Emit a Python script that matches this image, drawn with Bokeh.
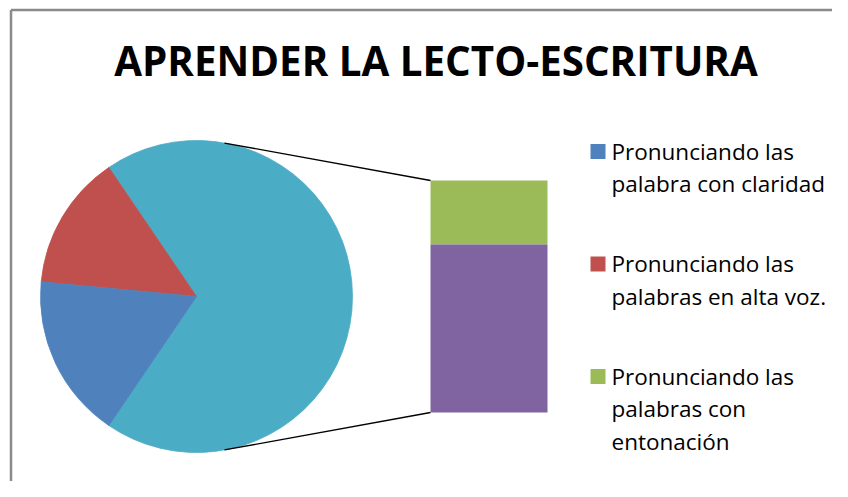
import math
from bokeh.plotting import figure
from bokeh.models import Range1d, ColumnDataSource
from bokeh.core.properties import value
from bokeh.embed import file_html
from bokeh.resources import INLINE

# ---------------- data ----------------
title_text = "APRENDER LA LECTO-ESCRITURA"
pie_labels = ["Pronunciando las palabra con claridad",
              "Pronunciando las palabras en alta voz."]
pie_values = [17, 14]
bar_labels = ["Pronunciando las palabras con entonación", ""]
bar_values = [19, 50]          # green (top), purple (bottom)
legend_lines = [["Pronunciando las", "palabra con claridad"],
                ["Pronunciando las", "palabras en alta voz."],
                ["Pronunciando las", "palabras con", "entonación"]]

# ---------------- styling / layout ----------------
pie_colors = ["#4F81BD", "#C0504D"]
other_color = "#4BACC6"
bar_colors = ["#9BBB59", "#8064A2"]
legend_colors = ["#4F81BD", "#C0504D", "#9BBB59"]
FONT = "Open Sans"

W, H = 832, 481
p = figure(width=W, height=H, x_range=Range1d(0, 832), y_range=Range1d(16, 497),
           output_backend="svg", toolbar_location=None,
           x_axis_location=None, y_axis_location=None,
           min_border=0, outline_line_color=None)
p.grid.visible = False
p.background_fill_color = "white"
p.border_fill_color = "white"


def Y(sy):
    return 497 - sy


# chart area border (left and top visible)
p.segment(x0=[10.5, 10.5], y0=[Y(9.5), Y(9.5)], x1=[10.5, 850], y1=[Y(520), Y(9.5)],
          line_color="#8a8a8a", line_width=2.5)

# title
p.text(x=[435.5], y=[Y(75 - 15)], text=[title_text], text_font=value(FONT),
       text_font_style="bold", text_font_size="40.3px", text_align="center",
       text_baseline="alphabetic", text_color="#000000")

# ---------------- pie ----------------
cx, cy, R = 196.0, Y(296), 156.0
total = sum(pie_values) + sum(bar_values)
other_val = sum(bar_values)
other_ang = other_val / total * 2 * math.pi
starts, ends, cols = [], [], []
starts.append(-other_ang / 2)
ends.append(other_ang / 2)
cols.append(other_color)
a = other_ang / 2
# slices continue anticlockwise: second category then first
for v, c in zip(reversed(pie_values), reversed(pie_colors)):
    span = v / total * 2 * math.pi
    starts.append(a)
    ends.append(a + span)
    cols.append(c)
    a += span
pie_src = ColumnDataSource(dict(x=[cx] * len(starts), y=[cy] * len(starts),
                                s=starts, e=ends, c=cols))
p.wedge(x="x", y="y", radius=R, start_angle="s", end_angle="e",
        fill_color="c", line_color="c", line_width=0.8, source=pie_src)

# ---------------- bar ----------------
bx0, bx1 = 430.0, 547.0
bar_h = 232.0
bar_bottom = cy - bar_h / 2
heights = [v / other_val * bar_h for v in bar_values]
# purple at bottom, green on top
b_purple = bar_bottom
t_purple = b_purple + heights[1]
b_green = t_purple
t_green = b_green + heights[0]
p.quad(left=[bx0, bx0], right=[bx1, bx1], bottom=[b_green, b_purple],
       top=[t_green, t_purple], fill_color=bar_colors, line_color=None)

# connector lines (tangent from bar corners to pie)
bar_top = t_green
seg_x0, seg_y0, seg_x1, seg_y1 = [], [], [], []
for (px, py) in [(bx0, bar_top), (bx0, bar_bottom)]:
    dx, dy = px - cx, py - cy
    d = math.hypot(dx, dy)
    base = math.atan2(dy, dx)
    off = math.acos(R / d)
    ang = base + off if dy > 0 else base - off
    seg_x0.append(cx + R * math.cos(ang))
    seg_y0.append(cy + R * math.sin(ang))
    seg_x1.append(px)
    seg_y1.append(py)
p.segment(x0=seg_x0, y0=seg_y0, x1=seg_x1, y1=seg_y1, line_color="#000000", line_width=1.3)

# ---------------- legend ----------------
first_base = 159.0
entry_step = 112.5
line_h = 32.7
text_shift = 8.5
sq_x, sq = 590.0, 15.0
tx = 611.0
lx, ly, lt = [], [], []
sqx, sqy, sqc = [], [], []
for i, lines in enumerate(legend_lines):
    b = first_base + i * entry_step
    sqx.append(sq_x + sq / 2)
    sqy.append(Y(b - sq / 2 - 0.5))
    sqc.append(legend_colors[i])
    for j, ln in enumerate(lines):
        lx.append(tx)
        ly.append(Y(b + j * line_h - text_shift))
        lt.append(ln)
p.rect(x=sqx, y=sqy, width=sq, height=sq, fill_color=sqc, line_color=None)
p.text(x=lx, y=ly, text=lt, text_font=value(FONT), text_font_size="22.5px",
       text_align="left", text_baseline="alphabetic", text_color="#000000")

open("out.html", "w").write(file_html(p, INLINE))
